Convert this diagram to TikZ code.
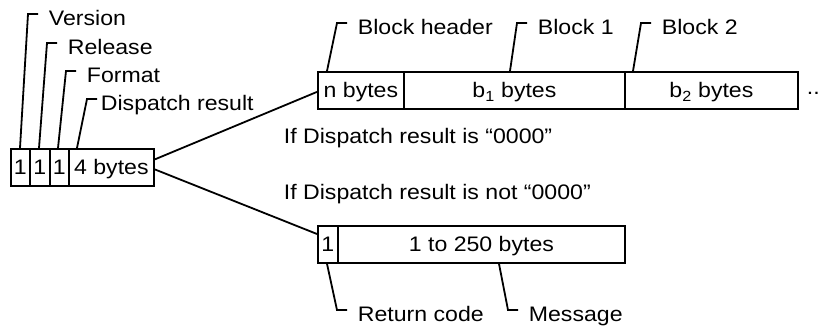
\documentclass[tikz,border=0pt]{standalone}
\usepackage{fontspec}
\setmainfont{Liberation Sans}[FakeStretch=1.1]
\usetikzlibrary{calc}

\begin{document}
\begin{tikzpicture}[x=1pt,y=-1pt,line width=1.8pt,
	every node/.style={font=\fontsize{21}{24}\selectfont},
	field/.style={draw,inner sep=0pt,minimum height=37pt,anchor=north west,text height=15pt,text depth=0pt},
	lbl/.style={anchor=base west,inner sep=0pt}]
	\useasboundingbox (0,0) rectangle (822,326);

	% draw the leading fields
	\node[field,minimum width=19pt] (ver) at (10,148) {1};
	\node[field,minimum width=20pt] (rel) at (29,148) {1};
	\node[field,minimum width=19pt] (fmt) at (49,148) {1};
	\node[field,minimum width=85pt] (dsp) at (68,148) {4 bytes};

	% draw the fields of the good answer
	\node[field,minimum width=86pt] (hdr) at (317,71) {n bytes};
	\node[field,minimum width=221pt] (blk1) at (403,71) {b\textsubscript{1} bytes};
	\node[field,minimum width=173pt] (blk2) at (624,71) {b\textsubscript{2} bytes};
	\node[lbl] (more) at (806,95) {..};

	% draw the fields of the error answer
	\node[field,minimum width=20pt] (rc) at (317,225) {1};
	\node[field,minimum width=287pt] (msg) at (337,225) {1 to 250 bytes};

	% the names above the fields
	\node[lbl] (lver) at (48,26) {Version};
	\node[lbl] (lrel) at (67,55) {Release};
	\node[lbl] (lfmt) at (86,83) {Format};
	\node[lbl] (ldsp) at (100,111) {Dispatch result};
	\node[lbl] (lhdr) at (357,35) {Block header};
	\node[lbl] (lblk1) at (537,35) {Block 1};
	\node[lbl] (lblk2) at (661,35) {Block 2};

	% the names below the fields
	\node[lbl] (lrc) at (357,321) {Return code};
	\node[lbl] (lmsg) at (528,321) {Message};

	% the two cases
	\node[lbl] (ifz) at (283,144) {If Dispatch result is “0000”};
	\node[lbl] (ifnz) at (283,200) {If Dispatch result is not “0000”};

	% leaders from the fields up to their names
	\foreach \b/\dx/\l/\g in {ver/10/lver/10, rel/10/lrel/10, fmt/9/lfmt/10, dsp/9/ldsp/3,
		hdr/10/lhdr/10, blk1/107/lblk1/10, blk2/9/lblk2/10}
		\draw ([xshift=\dx pt]\b.north west) -- ($(\l.base west)+(-\g-10,-12)$) -- ++(10,0);

	% leaders from the fields down to their names
	\foreach \b/\dx/\l in {rc/10/lrc, msg/162/lmsg}
		\draw ([xshift=\dx pt]\b.south west) -- ($(\l.base west)+(-20,-11)$) -- ++(10,0);

	% the branches
	\draw ([yshift=8pt]dsp.east) -- ([yshift=-1.5pt]hdr.west);
	\draw ([yshift=-2pt]dsp.east) -- ([yshift=-9pt]rc.north west);
\end{tikzpicture}
\end{document}
